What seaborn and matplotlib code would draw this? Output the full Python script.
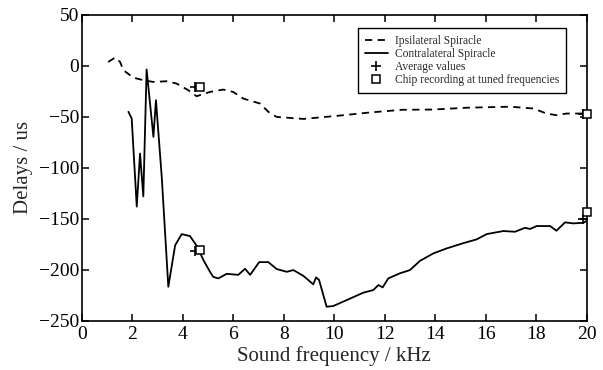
import matplotlib
matplotlib.use("Agg")
import matplotlib.pyplot as plt
import seaborn as sns
from matplotlib.lines import Line2D

# -----------------------------------
# Data
# -----------------------------------

ipsi_freq = [1.05, 1.32, 1.52, 1.65, 2.04, 2.44, 2.84, 3.37, 3.76, 4.22,
             4.55, 5.08, 5.6, 6.0, 6.4, 7.06, 7.39, 7.72, 8.78, 10.1,
             11.4, 12.7, 13.9, 15.25, 16.96, 17.9, 18.4, 18.8, 19.2, 19.8, 20.0]
ipsi_delay = [3.9, 8.2, 3.9, -4.2, -11.4, -14, -15.7, -15, -17.3, -23.8,
              -29.7, -25.5, -23.2, -25.5, -32, -36.9, -45, -50, -52, -49,
              -45.7, -43, -42.8, -41, -40, -41.8, -46.7, -48.3, -46.7, -46.7, -46.5]

contra_freq = [1.85, 1.98, 2.18, 2.31, 2.44, 2.57, 2.84, 2.94, 3.17, 3.43,
               3.7, 3.96, 4.29, 4.58, 4.82, 5.08, 5.21, 5.41, 5.74, 6.2,
               6.47, 6.67, 7.03, 7.39, 7.72, 8.12, 8.38, 8.78, 9.17, 9.28,
               9.4, 9.7, 9.96, 10.5, 11.15, 11.55, 11.75, 11.92, 12.14, 12.6,
               13.0, 13.4, 13.93, 14.46, 15.1, 15.64, 16.04, 16.7, 17.16, 17.56,
               17.75, 18.02, 18.55, 18.8, 19.14, 19.47, 19.87, 20.0]
contra_delay = [-45, -51.6, -138, -86, -128, -3.5, -69.6, -33.6, -109, -216.7,
                -176, -165, -167, -177.5, -190.5, -202, -207, -208.5, -204, -205,
                -199, -205, -192.5, -192.5, -199.3, -202, -200.3, -206, -214.3, -207.5,
                -210, -236.3, -235.6, -229.7, -222.5, -219.9, -215, -217.3, -208.5, -203.5,
                -200.3, -191.2, -183.9, -179, -174, -170.2, -165, -162, -162.7, -158.8,
                -160, -157.1, -157.1, -161.7, -153.5, -154.5, -153.9, -152]

avg_freq = [4.5, 4.5, 19.85, 19.85]
avg_delay = [-20.6, -181.7, -47, -150]

chip_freq = [4.7, 4.7, 20.0, 20.0]
chip_delay = [-20.6, -180.7, -46.7, -143.6]

# -----------------------------------
# Style
# -----------------------------------

sns.set_style("ticks")
plt.rcParams["font.family"] = ["Liberation Serif", "DejaVu Serif"]

fig = plt.figure(figsize=(6.03, 3.70), dpi=100)
ax = fig.add_axes([0.1355, 0.1332, 0.8375, 0.8263])

sns.lineplot(x=ipsi_freq, y=ipsi_delay, ax=ax, color="black",
             linewidth=1.3, linestyle=(0, (4, 3)), sort=False, estimator=None)
sns.lineplot(x=contra_freq, y=contra_delay, ax=ax, color="black",
             linewidth=1.3, sort=False, estimator=None)

sns.scatterplot(x=avg_freq, y=avg_delay, ax=ax, marker="+", s=55,
                color="black", linewidth=1.2, zorder=4)
ax.plot(chip_freq, chip_delay, linestyle="none", marker="s", markersize=5.8,
        markerfacecolor="white", markeredgecolor="black",
        markeredgewidth=1.1, zorder=5, clip_on=False)

ax.set_xlim(0, 20)
ax.set_ylim(-250, 50)
ax.set_xticks(range(0, 21, 2))
ax.set_yticks(range(-250, 51, 50))

for side in ["top", "right", "bottom", "left"]:
    ax.spines[side].set_visible(True)
    ax.spines[side].set_color("black")
    ax.spines[side].set_linewidth(1.2)

ax.tick_params(direction="in", length=5, width=1.1, top=True, right=True,
               labelsize=14, colors="black", pad=2)
ax.tick_params(axis="x", pad=4)
ax.set_xlabel("Sound frequency / kHz", fontsize=15, labelpad=2)
ax.set_ylabel("Delays / us", fontsize=15, labelpad=4)

handles = [
    Line2D([], [], color="black", linewidth=1.3, linestyle=(0, (4, 3))),
    Line2D([], [], color="black", linewidth=1.3),
    Line2D([], [], color="black", marker="+", linestyle="none",
           markersize=7, markeredgewidth=1.2),
    Line2D([], [], color="black", marker="s", linestyle="none",
           markersize=5.5, markerfacecolor="white", markeredgewidth=1.1),
]
labels = [
    "Ipsilateral Spiracle",
    "Contralateral Spiracle",
    "Average values",
    "Chip recording at tuned frequencies",
]
leg = ax.legend(handles, labels, loc="upper right",
                bbox_to_anchor=(0.959, 0.957), borderaxespad=0,
                fontsize=8.3, frameon=True, fancybox=False, edgecolor="black",
                framealpha=1, handlelength=2.0, handletextpad=0.6,
                labelspacing=0.08, borderpad=0.6)
leg.get_frame().set_linewidth(1.0)

fig.savefig("out.png", dpi=100)
